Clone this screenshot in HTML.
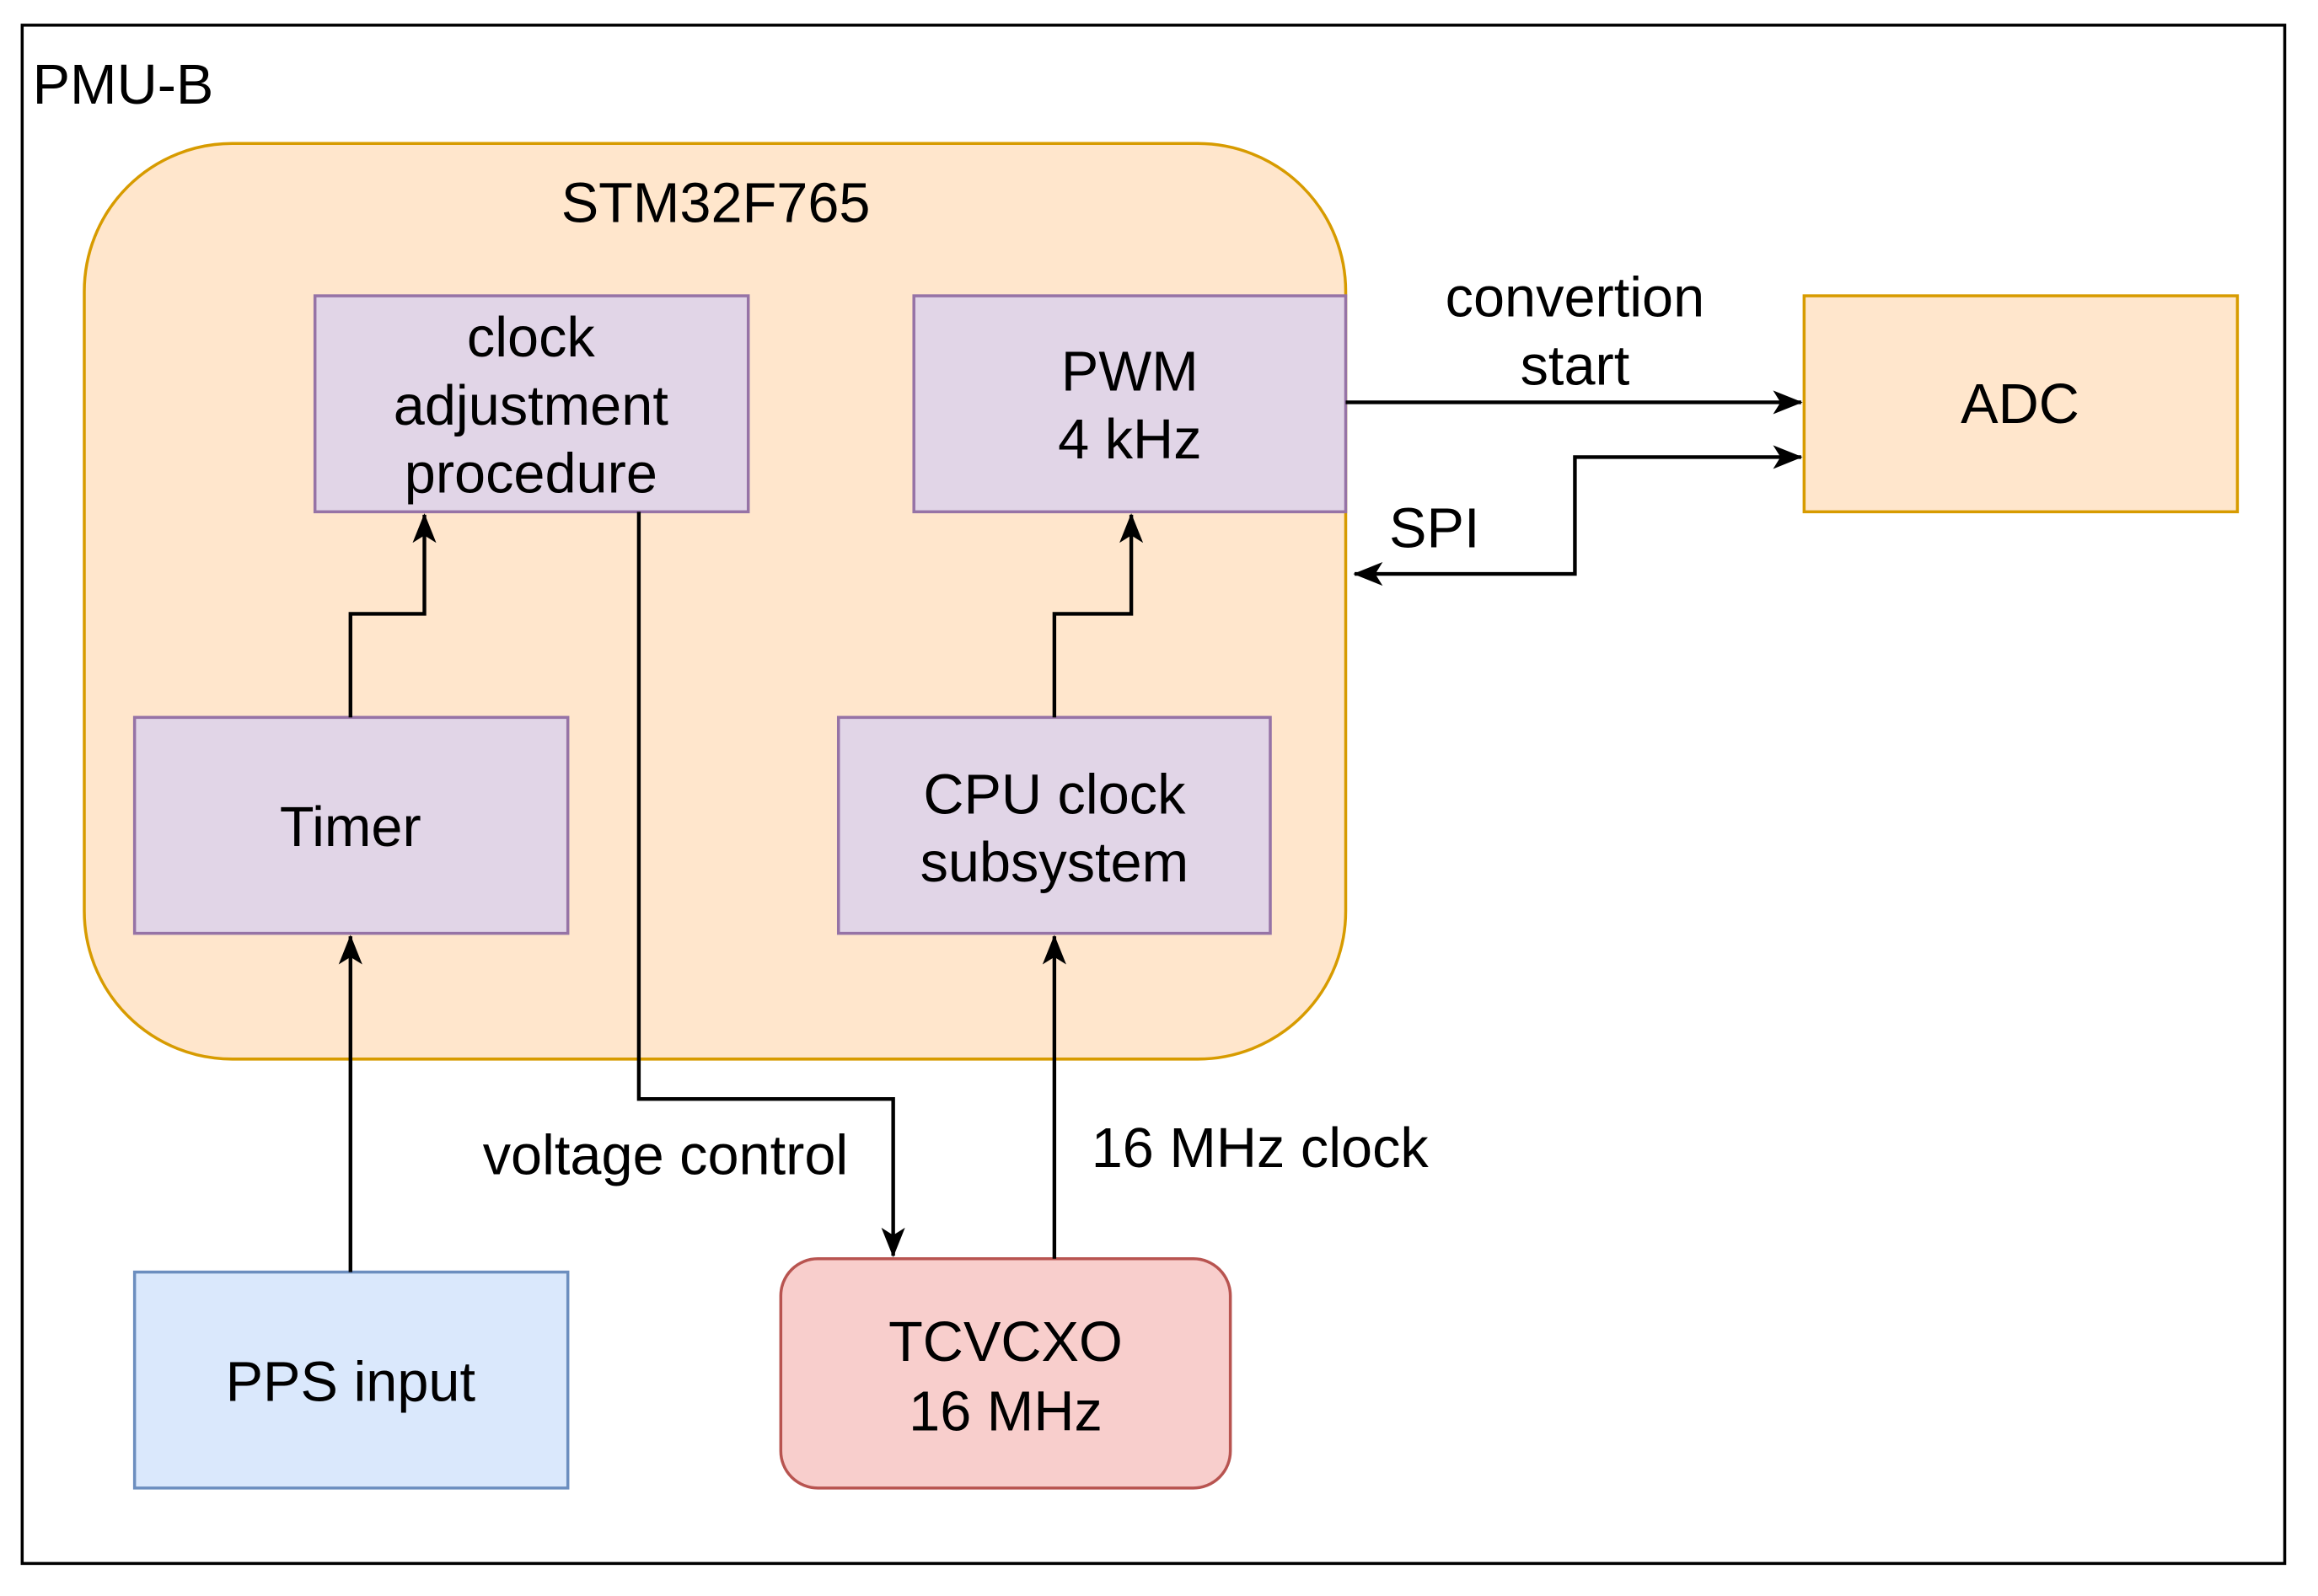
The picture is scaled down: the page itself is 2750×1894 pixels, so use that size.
<!DOCTYPE html>
<html><head><style>html,body{margin:0;padding:0;background:#fff}svg{display:block}</style></head>
<body>
<svg width="2750" height="1894" viewBox="0 0 1567.5 1079" preserveAspectRatio="none" xmlns="http://www.w3.org/2000/svg" font-family="Liberation Sans, Arial, sans-serif" font-size="38" text-anchor="middle">
<defs>
<marker id="a" viewBox="0 0 20 20" refX="19" refY="10" markerWidth="20" markerHeight="20" markerUnits="userSpaceOnUse" orient="auto-start-reverse">
<path d="M0,2 L20,10 L0,18 L5,10 Z" fill="#000"/>
</marker>
</defs>
<rect x="0" y="0" width="1567.5" height="1079" fill="#fff"/>
<rect x="15" y="17" width="1530" height="1040" fill="none" stroke="#000" stroke-width="2"/>
<text x="22" y="70" text-anchor="start">PMU-B</text>
<rect x="57" y="97" width="853" height="619" rx="100" fill="#ffe6cc" stroke="#d79b00" stroke-width="2"/>
<text x="484" y="150">STM32F765</text>
<g stroke="#9673a6" stroke-width="2" fill="#e1d5e7">
<rect x="213" y="200" width="293" height="146"/>
<rect x="618" y="200" width="292" height="146"/>
<rect x="91" y="485" width="293" height="146"/>
<rect x="567" y="485" width="292" height="146"/>
</g>
<rect x="91" y="860" width="293" height="146" fill="#dae8fc" stroke="#6c8ebf" stroke-width="2"/>
<rect x="528" y="851" width="304" height="155" rx="25" fill="#f8cecc" stroke="#b85450" stroke-width="2"/>
<rect x="1220" y="200" width="293" height="146" fill="#ffe6cc" stroke="#d79b00" stroke-width="2"/>
<text x="359" y="241">clock</text>
<text x="359" y="287">adjustment</text>
<text x="359" y="333">procedure</text>
<text x="764" y="264">PWM</text>
<text x="764" y="310">4 kHz</text>
<text x="237" y="572">Timer</text>
<text x="713" y="550">CPU clock</text>
<text x="713" y="596">subsystem</text>
<text x="237" y="947">PPS input</text>
<text x="680" y="920">TCVCXO</text>
<text x="680" y="967">16 MHz</text>
<text x="1366" y="286">ADC</text>
<g fill="none" stroke="#000" stroke-width="2.5">
<path d="M237,485 V415 H287 V348" marker-end="url(#a)"/>
<path d="M713,485 V415 H765 V348" marker-end="url(#a)"/>
<path d="M237,860 V633" marker-end="url(#a)"/>
<path d="M713,851 V633" marker-end="url(#a)"/>
<path d="M432,346 V743 H604 V849" marker-end="url(#a)"/>
<path d="M910,272 H1218" marker-end="url(#a)"/>
<path d="M916,388 H1065 V309 H1218" marker-start="url(#a)" marker-end="url(#a)"/>
</g>
<text x="1065" y="214">convertion</text>
<text x="1065" y="260">start</text>
<text x="970" y="370">SPI</text>
<text x="450" y="794">voltage control</text>
<text x="852" y="789">16 MHz clock</text>
</svg>
</body></html>
